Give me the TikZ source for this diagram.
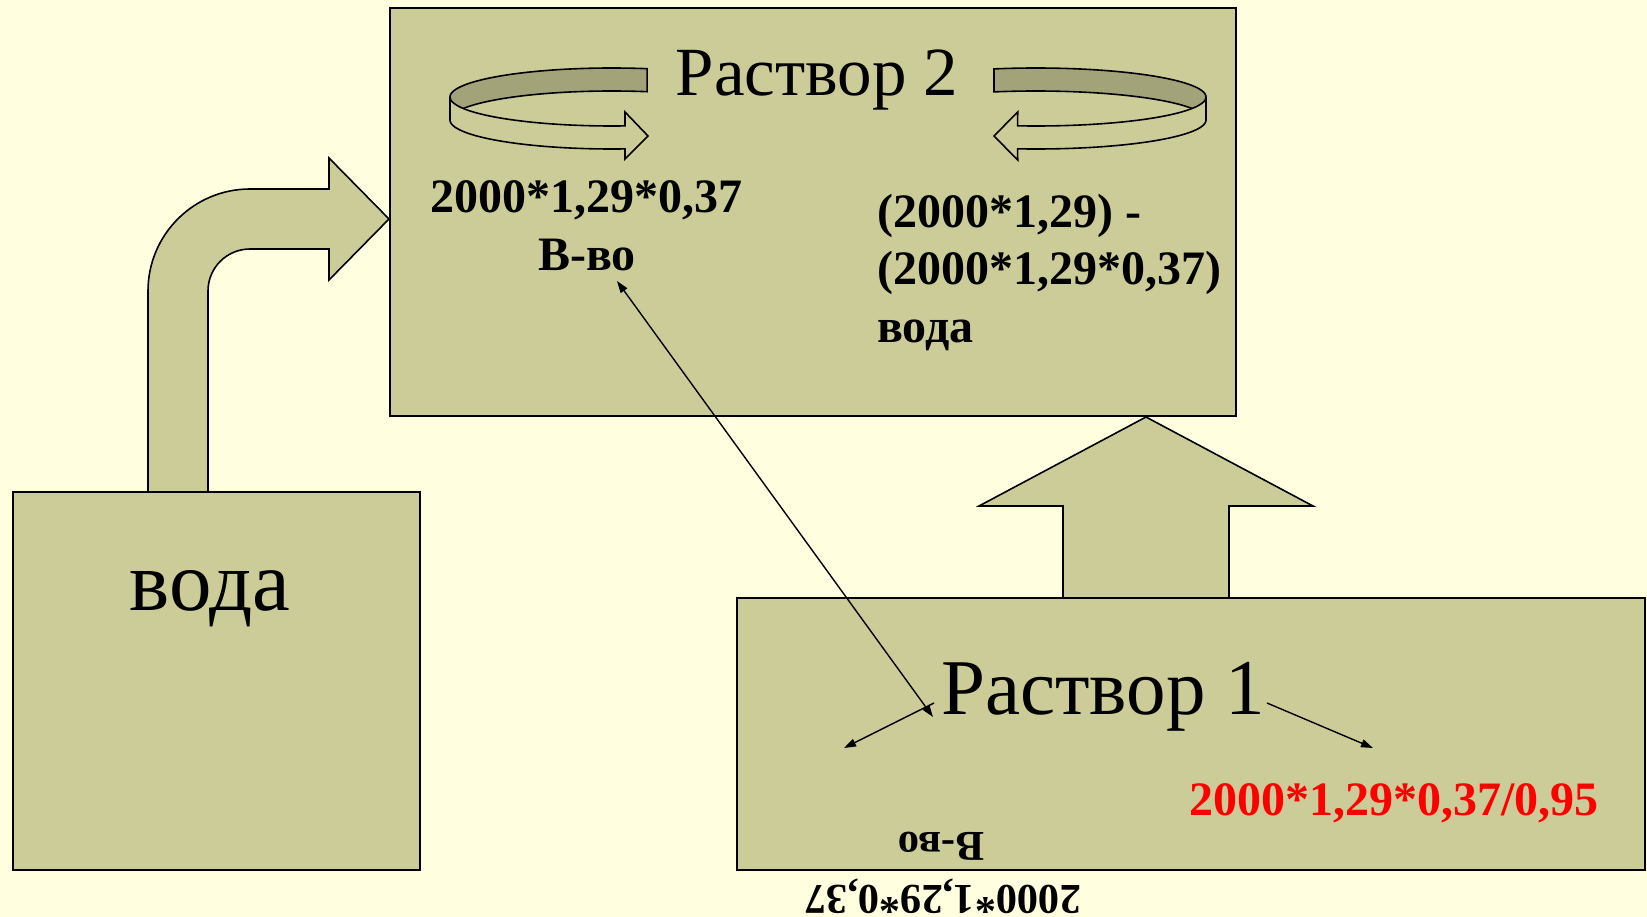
\documentclass[tikz,border=0pt]{standalone}
\usepackage{fontspec}
\setmainfont{Liberation Serif}
\usetikzlibrary{arrows.meta}
\definecolor{bgcol}{RGB}{255,255,224}
\definecolor{boxcol}{RGB}{204,204,153}
\definecolor{bandcol}{RGB}{163,163,122}
\definecolor{redtxt}{RGB}{255,0,0}
\begin{document}
\begin{tikzpicture}[x=1pt,y=-1pt,
  box/.style={draw=black,line width=2pt,fill=boxcol},
  bigarrow/.style={draw=black,line width=1.6pt,fill=boxcol,line join=miter},
  band/.style={draw=black,line width=1.6pt,fill=bandcol},
  front/.style={draw=black,line width=1.6pt,fill=boxcol},
  thin/.style={line width=1.4pt,-{Stealth[inset=0pt,length=12pt,width=8pt]}},
  bigtxt/.style={font=\fontsize{#1}{#1}\selectfont,anchor=base,inner sep=0pt},
  formula/.style={font=\fontsize{48}{48}\selectfont\bfseries,anchor=base,inner sep=0pt},
  formulasmall/.style={font=\fontsize{42.5}{42.5}\selectfont\bfseries,anchor=base,inner sep=0pt,rotate=180}
]
\useasboundingbox (0,0) rectangle (1647,917);
\fill[bgcol] (0,0) rectangle (1647,917);

% bent arrow from water to solution 2
\path[bigarrow] (148,492) -- (148,291) .. controls (148,234.7) and (193.7,189) .. (250,189)
  -- (329,189) -- (329,158) -- (389,219) -- (329,280) -- (329,249) -- (250,249)
  .. controls (226.8,249) and (208,267.8) .. (208,291) -- (208,492) -- cycle;

% up arrow from solution 1 to solution 2
\path[bigarrow] (1063,598) -- (1063,506) -- (979,506) -- (1146,417) -- (1313,506)
  -- (1229,506) -- (1229,598) -- cycle;

% boxes
\node[box,minimum width=846pt,minimum height=408pt,inner sep=0pt] (r2box) at (813,212) {};
\node[box,minimum width=407pt,minimum height=378pt,inner sep=0pt] (vbox) at (216.5,681) {};
\node[box,minimum width=908pt,minimum height=272pt,inner sep=0pt] (r1box) at (1191,734) {};

% left circular arrow
\path[band] plot[domain=180:282.5,samples=40] ({612+162*cos(\x)},{97+29*sin(\x)})
  -- plot[domain=282.5:180,samples=40] ({612+162*cos(\x)},{120+29*sin(\x)}) -- cycle;
\path[front] plot[domain=180:85.4,samples=40] ({612+162*cos(\x)},{97+29*sin(\x)})
  -- (625,112) -- (648,136) -- (625,159)
  -- plot[domain=85.4:180,samples=40] ({612+162*cos(\x)},{120+29*sin(\x)}) -- cycle;

% right circular arrow
\path[band] plot[domain=255.7:360,samples=40] ({1036+170*cos(\x)},{97+29*sin(\x)})
  -- plot[domain=360:255.7,samples=40] ({1036+170*cos(\x)},{120+29*sin(\x)}) -- cycle;
\path[front] plot[domain=0:96.2,samples=40] ({1036+170*cos(\x)},{97+29*sin(\x)})
  -- (1017.7,112) -- (994,136) -- (1017.7,160)
  -- plot[domain=96.2:0,samples=40] ({1036+170*cos(\x)},{120+29*sin(\x)}) -- cycle;

% texts
\node[bigtxt=69] (t2) at (817,96) {Раствор 2};
\node[bigtxt=79] (t1) at (1103,714) {Раствор 1};
\node[bigtxt=85] (tv) at (210,610) {вода};

\node[formula] (f1) at (586,213) {2000*1,29*0,37};
\node[formula] (f1b) at (587,271) {В-во};
\node[formula,anchor=base west] (f2a) at (877,228) {(2000*1,29) -};
\node[formula,anchor=base west] (f2b) at (877,285) {(2000*1,29*0,37)};
\node[formula,anchor=base west] (f2c) at (877,342) {вода};
\node[formula,text=redtxt] (f3) at (1394,815) {2000*1,29*0,37/0,95};

\node[formulasmall] (u1) at (941,832) {В-во};
\node[formulasmall] (u2) at (943,885) {2000*1,29*0,37};

% thin arrows
\coordinate (bvtip) at (617,281);
\coordinate (r1tip) at (933,717);
\coordinate (ls) at (934,703);
\coordinate (le) at (844,748);
\coordinate (rs) at (1267,703);
\coordinate (re) at (1373,748);
\draw[thin,{Stealth[inset=0pt,length=12pt,width=8pt]}-{Stealth[inset=0pt,length=12pt,width=8pt]}] (r1tip) -- (bvtip);
\draw[thin] (ls) -- (le);
\draw[thin] (rs) -- (re);
\end{tikzpicture}
\end{document}
